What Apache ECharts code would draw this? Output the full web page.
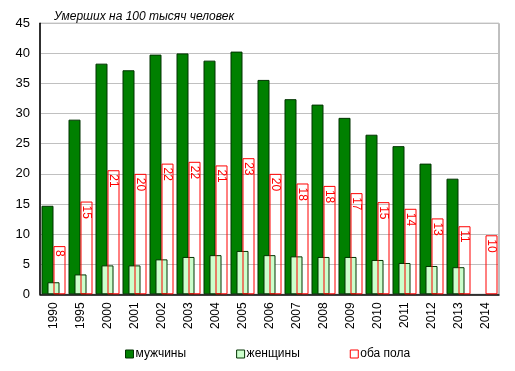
<!DOCTYPE html>
<html>
<head>
<meta charset="utf-8">
<script src="https://cdn.jsdelivr.net/npm/echarts@6/dist/echarts.min.js"></script>
<style>
html,body{margin:0;padding:0;background:#fff;}
#c{width:515px;height:371px;}
</style>
</head>
<body>
<div id="c"></div>
<script>
var years = ['1990','1995','2000','2001','2002','2003','2004','2005','2006','2007','2008','2009','2010','2011','2012','2013','2014'];
var men   = [14.7, 29.0, 38.3, 37.2, 39.8, 40.0, 38.8, 40.3, 35.6, 32.4, 31.5, 29.3, 26.5, 24.6, 21.7, 19.2, null];
var women = [2.0, 3.3, 4.8, 4.8, 5.8, 6.2, 6.5, 7.2, 6.5, 6.3, 6.2, 6.2, 5.7, 5.2, 4.7, 4.5, null];
var both  = [8.0, 15.4, 20.6, 20.0, 21.7, 22.0, 21.4, 22.6, 20.0, 18.4, 18.0, 16.8, 15.3, 14.2, 12.6, 11.3, 9.8];
var yTicks = [0, 5, 10, 15, 20, 25, 30, 35, 40, 45];

var font = '"Liberation Sans", Arial, sans-serif';
var chart = echarts.init(document.getElementById('c'), null, {renderer: 'canvas'});
chart.setOption({
  animation: false,
  backgroundColor: '#fff',
  title: {
    text: 'Умерших на 100 тысяч человек',
    left: 49, top: 6,
    textStyle: {fontFamily: font, fontSize: 12, fontStyle: 'italic', fontWeight: 'normal', color: '#000'}
  },
  grid: {left: 40, right: 16, top: 23.3, bottom: 76.7, show: true, borderColor: '#808080', borderWidth: 1, containLabel: false},
  legend: {
    bottom: 6, left: 120,
    itemWidth: 8, itemHeight: 8, itemGap: 50,
    icon: 'rect',
    textStyle: {fontFamily: font, fontSize: 12, color: '#000', padding: [0, 0, 0, -3]},
    data: [
      {name: 'мужчины', itemStyle: {color: '#008000', borderColor: '#003300', borderWidth: 1}},
      {name: 'женщины', itemStyle: {color: '#ccffcc', borderColor: '#003300', borderWidth: 1}},
      {name: 'оба пола', itemStyle: {color: '#fff', borderColor: '#ff0000', borderWidth: 1}}
    ]
  },
  xAxis: {
    type: 'category',
    data: years,
    axisLine: {lineStyle: {color: '#000', width: 1.5}},
    axisTick: {show: false},
    axisLabel: {rotate: 90, margin: 8, fontFamily: font, fontSize: 12, color: '#000', interval: 0}
  },
  yAxis: {
    type: 'value',
    min: 0, max: 45, interval: 5,
    axisLine: {show: true, lineStyle: {color: '#000', width: 1.5}},
    axisTick: {show: false},
    splitLine: {lineStyle: {color: '#c0c0c0', width: 1}},
    axisLabel: {margin: 10, fontFamily: font, fontSize: 13, color: '#000',
      formatter: function (v) { return yTicks.indexOf(v) >= 0 ? String(v) : ''; }}
  },
  series: [
    {
      name: 'мужчины', type: 'bar', data: men, barWidth: 12, barGap: '-50%',
      itemStyle: {color: '#008000', borderColor: '#003300', borderWidth: 1}
    },
    {
      name: 'женщины', type: 'bar', data: women, barWidth: 12, barGap: '-50%',
      itemStyle: {color: '#ccffcc', borderColor: '#003300', borderWidth: 1}
    },
    {
      name: 'оба пола', type: 'bar', data: both, barWidth: 12, barGap: '-50%',
      itemStyle: {color: 'rgba(0,0,0,0)', borderColor: '#ff0000', borderWidth: 1},
      label: {
        show: true, position: 'insideTop', distance: 4, rotate: -90,
        align: 'left', verticalAlign: 'middle',
        fontFamily: font, fontSize: 12, color: '#ff0000',
        formatter: function (p) { return Math.round(p.value); }
      }
    }
  ]
});
</script>
</body>
</html>
